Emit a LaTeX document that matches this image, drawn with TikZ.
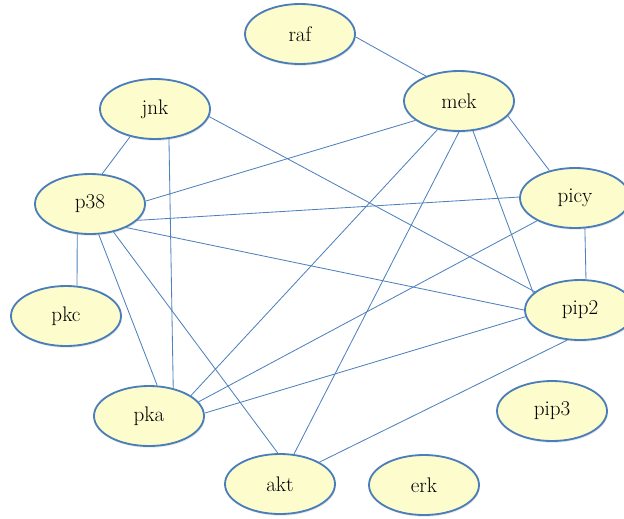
\documentclass[tikz,border=0pt]{standalone}
\usepackage{xcolor}
\usepackage{tikz}
\usetikzlibrary{shapes.geometric,shadows}

\definecolor{geneline}{HTML}{4A7EBB}
\definecolor{genefill}{HTML}{FCFCCC}
\definecolor{linkblue}{HTML}{4F81BD}

\begin{document}
\begin{tikzpicture}[
    gene/.style={ellipse, draw=geneline, line width=1.3pt, fill=genefill,
        minimum width=2.75cm, minimum height=1.5cm, inner sep=0pt,
        font=\fontsize{15}{17}\selectfont,
        drop shadow={opacity=0.2, shadow xshift=0.6pt, shadow yshift=-1.2pt}},
    link/.style={draw=linkblue, line width=0.6pt}
]
    \useasboundingbox (0,0) rectangle (15.6,-12.95);

    \node[gene] (raf)  at (7.50,-0.85)    {raf};
    \node[gene] (mek)  at (11.475,-2.525) {mek};
    \node[gene] (jnk)  at (3.875,-2.725)  {jnk};
    \node[gene] (p38)  at (2.25,-5.10)    {p38};
    \node[gene] (picy) at (14.375,-4.95)  {picy};
    \node[gene] (pkc)  at (1.65,-7.90)    {pkc};
    \node[gene] (pip2) at (14.50,-7.75)   {pip2};
    \node[gene] (pka)  at (3.725,-10.40)  {pka};
    \node[gene] (pip3) at (13.80,-10.275) {pip3};
    \node[gene] (akt)  at (7.00,-12.10)   {akt};
    \node[gene] (erk)  at (10.60,-12.125) {erk};

    \path[link] (raf.-3)    -- (mek.143);
    \path[link] (jnk.-132)  -- (p38.68);
    \path[link] (jnk.-65)   -- (pka.49);
    \path[link] (jnk.-8)    -- (pip2.158);
    \path[link] (p38.3)     -- (mek.-156);
    \path[link] (p38.-19)   -- (picy.179);
    \path[link] (p38.-33)   -- (pip2.180);
    \path[link] (p38.-113)  -- (pkc.70);
    \path[link] (p38.-74)   -- (pka.75);
    \path[link] (p38.-50)   -- (akt.94);
    \path[link] (mek.-127)  -- (pka.26);
    \path[link] (mek.-90)   -- (akt.65);
    \path[link] (mek.-65)   -- (pip2.160);
    \path[link] (mek.-17)   -- (picy.133);
    \path[link] (picy.-149) -- (pka.16);
    \path[link] (picy.-72)  -- (pip2.79);
    \path[link] (pip2.-173) -- (pka.3);
    \path[link] (pip2.-113) -- (akt.29);
\end{tikzpicture}
\end{document}
